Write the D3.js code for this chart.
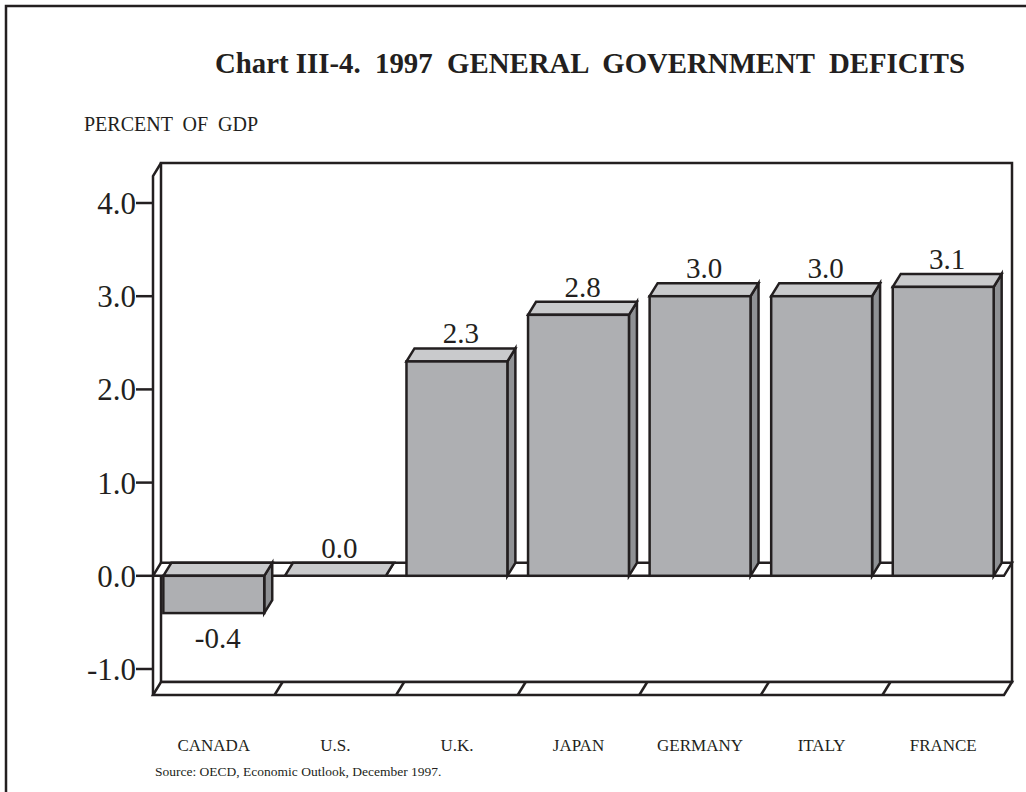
<!DOCTYPE html>
<html>
<head>
<meta charset="utf-8">
<script src="https://cdn.jsdelivr.net/npm/d3@7"></script>
<style>
  body { margin: 0; background: #fff; }
  svg { display: block; font-family: "Liberation Serif", "Times New Roman", serif; }
  .pre { white-space: pre; }
</style>
</head>
<body>
<script>
// data
var countries = ['CANADA', 'U.S.', 'U.K.', 'JAPAN', 'GERMANY', 'ITALY', 'FRANCE'];
var deficits = [-0.4, 0.0, 2.3, 2.8, 3.0, 3.0, 3.1];
var yTicks = [-1, 0, 1, 2, 3, 4];

var W = 1026, H = 792;
var ink = '#231f20';
var dx = 8, dy = 13;                // depth offset of the 3d box
var boxLeft = 153, boxRight = 1004; // front plane
var boxTop = 176, boxBottom = 695;

var svg = d3.select('body').append('svg')
  .attr('width', W)
  .attr('height', H);

// page frame (only top and left visible)
svg.append('path')
  .attr('d', 'M6,' + H + ' L6,6 L' + W + ',6')
  .attr('fill', 'none')
  .attr('stroke', ink)
  .attr('stroke-width', 2.5);

svg.append('text')
  .attr('class', 'pre')
  .attr('x', 590)
  .attr('y', 73)
  .attr('text-anchor', 'middle')
  .style('font-size', '28.8px')
  .style('font-weight', 'bold')
  .attr('fill', ink)
  .text('Chart III-4.  1997  GENERAL  GOVERNMENT  DEFICITS');

svg.append('text')
  .attr('class', 'pre')
  .attr('x', 84)
  .attr('y', 131)
  .style('font-size', '20px')
  .attr('fill', ink)
  .text('PERCENT  OF  GDP');

var y = d3.scaleLinear().domain([-1, 4]).range([669, 203]);
var x = d3.scaleBand().domain(countries).range([boxLeft, boxRight])
  .paddingInner(0.17).paddingOuter(0.085);

function poly(pts) { return 'M' + pts.map(function(p) { return p.join(','); }).join('L') + 'Z'; }

var g = svg.append('g')
  .attr('stroke', ink)
  .attr('stroke-width', 2.5)
  .attr('stroke-linejoin', 'miter');

// back wall
g.append('rect')
  .attr('x', boxLeft + dx).attr('y', boxTop - dy)
  .attr('width', boxRight - boxLeft).attr('height', boxBottom - boxTop)
  .attr('fill', '#fff');

// floor
g.append('path')
  .attr('d', poly([[boxLeft, boxBottom], [boxLeft + dx, boxBottom - dy], [boxRight + dx, boxBottom - dy], [boxRight, boxBottom]]))
  .attr('fill', '#fff');

var bounds = countries.slice(1).map(function(c) { return x(c) - x.step() * x.paddingInner() / 2; });
g.selectAll('.floor-div')
  .data(bounds)
  .enter().append('line')
  .attr('class', 'floor-div')
  .attr('x1', function(d) { return d; }).attr('y1', boxBottom)
  .attr('x2', function(d) { return d + dx; }).attr('y2', boxBottom - dy);

// zero plane
var y0 = y(0);
g.append('path')
  .attr('d', poly([[boxLeft, y0], [boxLeft + dx, y0 - dy], [boxRight + dx, y0 - dy], [boxRight, y0]]))
  .attr('fill', '#fff');

// bars
var bw = x.bandwidth();
var rows = countries.map(function(c, i) { return { name: c, value: deficits[i] }; });
var bars = g.selectAll('.bar')
  .data(rows)
  .enter().append('g')
  .attr('class', 'bar');

bars.append('path')
  .attr('fill', '#8f9194')
  .attr('d', function(d) {
    var x0 = x(d.name) + bw, yt = y(Math.max(0, d.value)), yb = y(Math.min(0, d.value));
    return poly([[x0, yt], [x0 + dx, yt - dy], [x0 + dx, yb - dy], [x0, yb]]);
  });

bars.append('path')
  .attr('fill', '#c9cacc')
  .attr('d', function(d) {
    var x0 = x(d.name), yt = y(Math.max(0, d.value));
    return poly([[x0, yt], [x0 + dx, yt - dy], [x0 + bw + dx, yt - dy], [x0 + bw, yt]]);
  });

bars.append('rect')
  .attr('fill', '#aeafb2')
  .attr('x', function(d) { return x(d.name); })
  .attr('y', function(d) { return y(Math.max(0, d.value)); })
  .attr('width', bw)
  .attr('height', function(d) { return Math.abs(y(d.value) - y0); });

// value labels
svg.selectAll('.val')
  .data(rows)
  .enter().append('text')
  .attr('class', 'val')
  .attr('x', function(d) { return x(d.name) + bw / 2 + dx / 2; })
  .attr('y', function(d) { return d.value < 0 ? y(d.value) + 35 : y(d.value) - dy - 5; })
  .attr('text-anchor', 'middle')
  .style('font-size', '29px')
  .attr('fill', ink)
  .text(function(d) { return d.value.toFixed(1); });

// front axis
g.append('path')
  .attr('d', 'M' + (boxLeft + dx) + ',' + (boxTop - dy) + ' L' + boxLeft + ',' + boxTop + ' L' + boxLeft + ',' + boxBottom)
  .attr('fill', 'none');

g.selectAll('.tick')
  .data(yTicks)
  .enter().append('line')
  .attr('class', 'tick')
  .attr('x1', boxLeft - 17).attr('x2', boxLeft)
  .attr('y1', function(d) { return y(d); })
  .attr('y2', function(d) { return y(d); });

svg.selectAll('.ylab')
  .data(yTicks)
  .enter().append('text')
  .attr('class', 'ylab')
  .attr('x', boxLeft - 17)
  .attr('y', function(d) { return y(d) + 11; })
  .attr('text-anchor', 'end')
  .style('font-size', '31px')
  .attr('fill', ink)
  .text(function(d) { return d.toFixed(1); });

svg.selectAll('.xlab')
  .data(countries)
  .enter().append('text')
  .attr('class', 'xlab')
  .attr('x', function(d) { return x(d) + bw / 2; })
  .attr('y', 751)
  .attr('text-anchor', 'middle')
  .style('font-size', '17px')
  .attr('fill', ink)
  .text(function(d) { return d; });

svg.append('text')
  .attr('x', 155)
  .attr('y', 776)
  .style('font-size', '13.5px')
  .attr('fill', ink)
  .text('Source: OECD, Economic Outlook, December 1997.');
</script>
</body>
</html>
